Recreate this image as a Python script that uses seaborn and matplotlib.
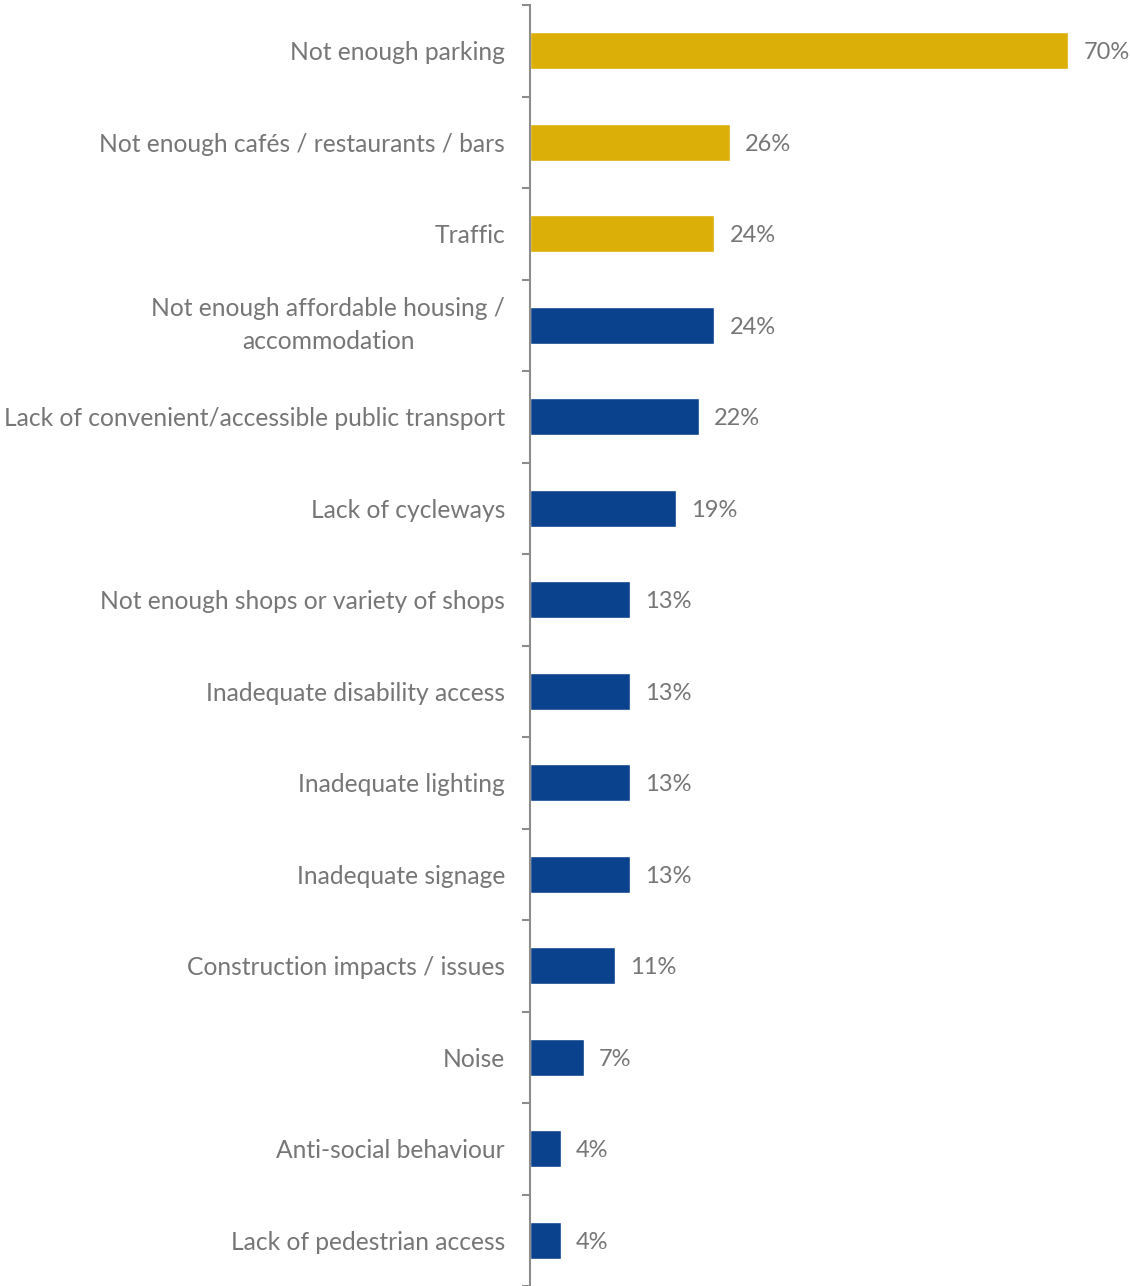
import matplotlib
matplotlib.use("Agg")
import matplotlib.pyplot as plt
import seaborn as sns
import pandas as pd
import numpy as np

categories = [
    "Not enough parking",
    "Not enough cafés / restaurants / bars",
    "Traffic",
    "Not enough affordable housing /\naccommodation",
    "Lack of convenient/accessible public transport",
    "Lack of cycleways",
    "Not enough shops or variety of shops",
    "Inadequate disability access",
    "Inadequate lighting",
    "Inadequate signage",
    "Construction impacts / issues",
    "Noise",
    "Anti-social behaviour",
    "Lack of pedestrian access",
]
values = [70, 26, 24, 24, 22, 19, 13, 13, 13, 13, 11, 7, 4, 4]
groups = ["top", "top", "top"] + ["other"] * 11

palette = {"top": "#DBAF07", "other": "#0A428E"}
text_color = "#767676"
axis_color = "#8C8C8C"

sns.set_theme(style="white")
plt.rcParams["font.family"] = ["Lato", "DejaVu Sans"]

df = pd.DataFrame({"category": categories, "value": values, "group": groups})

fig = plt.figure(figsize=(11.3, 12.86), dpi=100)
ax = fig.add_axes([530 / 1130, 0, 600 / 1130, 1 - 5 / 1286])

sns.barplot(data=df, y="category", x="value", hue="group", palette=palette,
            dodge=False, width=0.4, legend=False, ax=ax, saturation=1)

ax.set_xlim(0, 70 * 600 / 538)
ax.set_ylim(len(categories) - 0.5, -0.5)

for i, v in enumerate(values):
    ax.annotate(f"{v}%", xy=(v, i), xytext=(11, 0), textcoords="offset points",
                ha="left", va="center_baseline", fontsize=17, color=text_color)

ax.set_xlabel("")
ax.set_ylabel("")
ax.set_xticks([])
ax.set_yticks(range(len(categories)))
ax.set_yticklabels(categories, fontsize=17.7, color=text_color,
                   multialignment="center", linespacing=1.55)
for lbl in ax.get_yticklabels():
    if "\n" in lbl.get_text():
        lbl.set_verticalalignment("center")
    else:
        lbl.set_verticalalignment("center_baseline")
ax.tick_params(axis="y", which="major", length=0, pad=18)
ax.set_yticks(np.arange(-0.5, len(categories), 1.0), minor=True)
ax.tick_params(axis="y", which="minor", length=6, width=1.5, color=axis_color, left=True)

for side in ["top", "right", "bottom"]:
    ax.spines[side].set_visible(False)
ax.spines["left"].set_color(axis_color)
ax.spines["left"].set_linewidth(1.5)

fig.savefig("out.png", dpi=100)
